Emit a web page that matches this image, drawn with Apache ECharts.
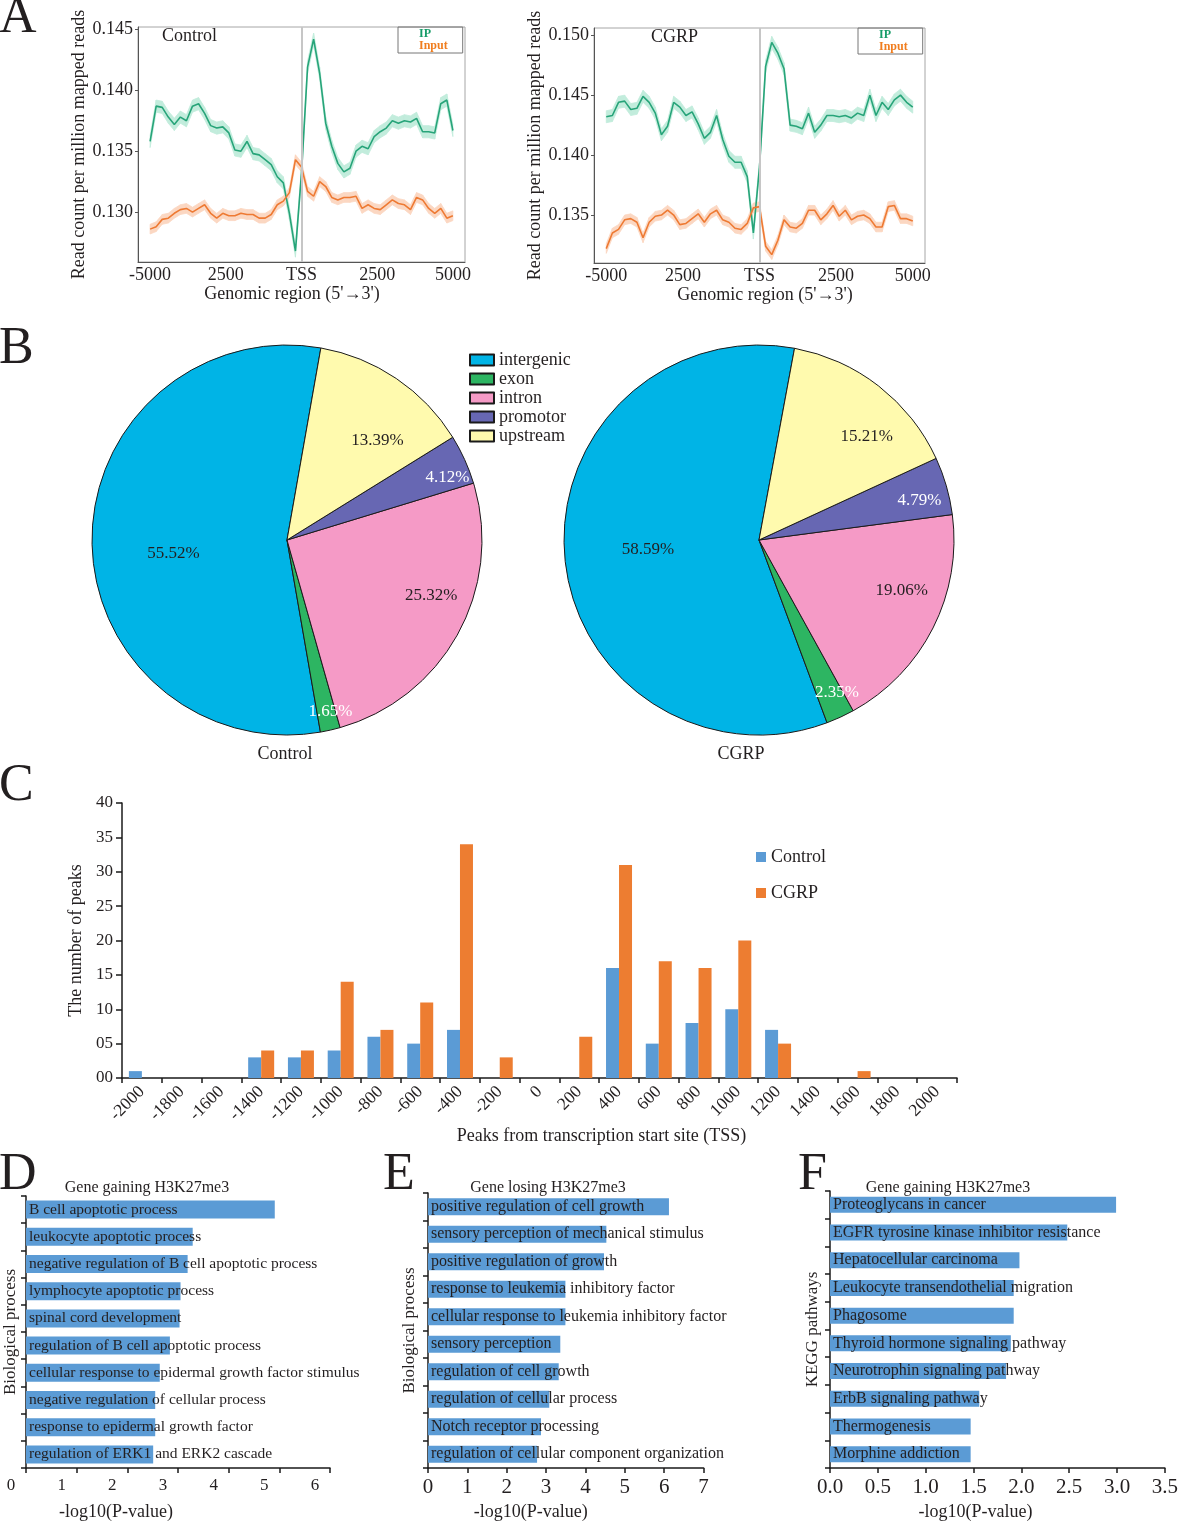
<!DOCTYPE html>
<html>
<head>
<meta charset="utf-8">
<title>H3K27me3 profiles and peaks</title>
<script src="https://cdn.jsdelivr.net/npm/echarts@6/dist/echarts.min.js"></script>
<style>
  html, body { margin: 0; padding: 0; background: #fff; }
  #main { width: 1181px; height: 1522px; }
</style>
</head>
<body>
<div id="main"></div>
<script>
// ---- A: read count profiles around the TSS ----
var positions = [-5000,-4800,-4600,-4400,-4200,-4000,-3800,-3600,-3400,-3200,-3000,-2800,-2600,-2400,-2200,-2000,-1800,-1600,-1400,-1200,-1000,-800,-600,-400,-200,0,200,400,600,800,1000,1200,1400,1600,1800,2000,2200,2400,2600,2800,3000,3200,3400,3600,3800,4000,4200,4400,4600,4800,5000];
var ctrlIP = [0.1358,0.1387,0.1386,0.1378,0.1372,0.1378,0.1375,0.1387,0.1389,0.1381,0.1371,0.1369,0.1370,0.1365,0.1351,0.1350,0.1358,0.1348,0.1347,0.1343,0.1339,0.1329,0.1324,0.1299,0.1268,0.1332,0.1419,0.1442,0.1414,0.1373,0.1354,0.1340,0.1333,0.1336,0.1350,0.1354,0.1352,0.1362,0.1366,0.1369,0.1375,0.1373,0.1375,0.1374,0.1377,0.1366,0.1366,0.1365,0.1389,0.1392,0.1367];
var ctrlInput = [0.1286,0.1288,0.1294,0.1295,0.1299,0.1302,0.1303,0.1300,0.1303,0.1306,0.1299,0.1295,0.1299,0.1297,0.1297,0.1299,0.1298,0.1298,0.1295,0.1295,0.1298,0.1306,0.1309,0.1316,0.1343,0.1337,0.1317,0.1313,0.1325,0.1321,0.1312,0.1310,0.1312,0.1312,0.1313,0.1303,0.1306,0.1303,0.1302,0.1306,0.1310,0.1307,0.1306,0.1302,0.1312,0.1310,0.1303,0.1299,0.1303,0.1295,0.1297];
var cgrpIP = [0.1432,0.1433,0.1444,0.1445,0.1438,0.1439,0.1449,0.1444,0.1435,0.1417,0.1424,0.1444,0.1440,0.1433,0.1436,0.1426,0.1414,0.1419,0.1433,0.1413,0.1399,0.1394,0.1394,0.1382,0.1335,0.1390,0.1474,0.1494,0.1485,0.1472,0.1425,0.1424,0.1422,0.1435,0.1419,0.1425,0.1433,0.1433,0.1432,0.1433,0.1431,0.1435,0.1433,0.1450,0.1433,0.1444,0.1438,0.1446,0.1450,0.1444,0.1440];
var cgrpInput = [0.1322,0.1335,0.1338,0.1346,0.1347,0.1344,0.1331,0.1344,0.1349,0.1350,0.1354,0.1350,0.1342,0.1343,0.1347,0.1351,0.1344,0.1351,0.1354,0.1346,0.1344,0.1339,0.1338,0.1343,0.1356,0.1357,0.1324,0.1317,0.1329,0.1346,0.1340,0.1339,0.1343,0.1354,0.1354,0.1346,0.1351,0.1358,0.1349,0.1354,0.1346,0.1349,0.1350,0.1347,0.1340,0.1340,0.1357,0.1358,0.1347,0.1347,0.1345];
var ipSpread = 0.0005;     // half width of the shaded band
var inputSpread = 0.0004;
var profileTicks = [-5000, -2500, 0, 2500, 5000];
var profileTickLabels = ['-5000', '2500', 'TSS', '2500', '5000'];
var ctrlYTicks = [0.130, 0.135, 0.140, 0.145];
var cgrpYTicks = [0.135, 0.140, 0.145, 0.150];

// ---- B: genomic distribution of peaks ----
var regionNames = ['intergenic', 'exon', 'intron', 'promotor', 'upstream'];
var ctrlShare = [55.52, 1.65, 25.32, 4.12, 13.39];
var cgrpShare = [58.59, 2.35, 19.06, 4.79, 15.21];

// ---- C: peaks vs distance from TSS ----
var tssBins = ['-2000','-1800','-1600','-1400','-1200','-1000','-800','-600','-400','-200','0','200','400','600','800','1000','1200','1400','1600','1800','2000'];
var peaksControl = [1,0,0,3,3,4,6,5,7,0,0,0,16,5,8,10,7,0,0,0,0];
var peaksCGRP = [0,0,0,4,4,14,7,11,34,3,0,6,31,17,16,20,5,0,1,0,0];

// ---- D/E/F: enrichment ----
var gainTerms = ['B cell apoptotic process','leukocyte apoptotic process','negative regulation of B cell apoptotic process','lymphocyte apoptotic process','spinal cord development','regulation of B cell apoptotic process','cellular response to epidermal growth factor stimulus','negative regulation of cellular process','response to epidermal growth factor','regulation of ERK1 and ERK2 cascade'];
var gainScores = [4.91, 3.29, 3.19, 3.05, 3.03, 2.84, 2.64, 2.55, 2.55, 2.51];
var lossTerms = ['positive regulation of cell growth','sensory perception of mechanical stimulus','positive regulation of growth','response to leukemia inhibitory factor','cellular response to leukemia inhibitory factor','sensory perception','regulation of cell growth','regulation of cellular process','Notch receptor processing','regulation of cellular component organization'];
var lossScores = [6.12, 4.53, 4.47, 3.49, 3.49, 3.36, 3.32, 3.08, 2.87, 2.77];
var keggTerms = ['Proteoglycans in cancer','EGFR tyrosine kinase inhibitor resistance','Hepatocellular carcinoma','Leukocyte transendothelial migration','Phagosome','Thyroid hormone signaling pathway','Neurotrophin signaling pathway','ErbB signaling pathway','Thermogenesis','Morphine addiction'];
var keggScores = [2.99, 2.48, 1.98, 1.92, 1.92, 1.89, 1.84, 1.56, 1.47, 1.47];

var FONT = '"Liberation Serif", "DejaVu Serif", serif';
var INK = '#231f20';
var AXIS = '#1a1a1a';
var GREEN = '#27a479', GREEN_BAND = '#c2ecdc';
var ORANGE = '#ee7a33', ORANGE_BAND = '#fbd7c2';
var BLUE = '#5b9bd5', BAR_ORANGE = '#ed7d31';
var pieColors = ['#00b4e6', '#2db562', '#f59ac6', '#6767b3', '#fffaae'];
var pieInk = [INK, '#fff', INK, '#fff', INK];
var ctrlLabelShift = [[-13, 14], [21, 74], [56, 7], [69, -21], [34, -16]];
var cgrpLabelShift = [[-11, 1], [36, 61], [53, 5], [64, -12], [46, -24]];

var chart = echarts.init(document.getElementById('main'));

function pairs(xs, ys) {
  return xs.map(function (x, i) { return [x, ys[i]]; });
}

// shaded band drawn as quads between consecutive positions
function bandSeries(idx, vals, half, color) {
  var lo = vals.map(function (v) { return v - half; });
  var hi = vals.map(function (v) { return v + half; });
  return {
    type: 'custom', xAxisIndex: idx, yAxisIndex: idx, silent: true, z: 1,
    data: positions.map(function (x, i) { return [x, lo[i], hi[i]]; }),
    encode: { x: 0, y: [1, 2] },
    renderItem: function (params, api) {
      var i = params.dataIndex;
      if (i >= positions.length - 1) { return null; }
      var pts = [
        api.coord([positions[i], lo[i]]),
        api.coord([positions[i + 1], lo[i + 1]]),
        api.coord([positions[i + 1], hi[i + 1]]),
        api.coord([positions[i], hi[i]])
      ];
      return { type: 'polygon', shape: { points: pts },
        style: { fill: color, stroke: color, lineWidth: 0.8 } };
    }
  };
}

function profileSeries(idx, ip, input) {
  return [
    bandSeries(idx, ip, ipSpread, GREEN_BAND),
    bandSeries(idx, input, inputSpread, ORANGE_BAND),
    {
      name: 'IP', type: 'line', xAxisIndex: idx, yAxisIndex: idx, symbol: 'none', z: 3,
      data: pairs(positions, ip), lineStyle: { color: GREEN, width: 1.6 }, itemStyle: { color: GREEN },
      markLine: {
        silent: true, symbol: ['none', 'none'], label: { show: false },
        lineStyle: { color: '#c6c6c6', width: 2, type: 'solid' },
        data: [{ xAxis: 0 }]
      }
    },
    {
      name: 'Input', type: 'line', xAxisIndex: idx, yAxisIndex: idx, symbol: 'none', z: 3,
      data: pairs(positions, input), lineStyle: { color: ORANGE, width: 1.6 }, itemStyle: { color: ORANGE }
    }
  ];
}

function profileX(idx, namePad) {
  return {
    gridIndex: idx, type: 'value', min: -5400, max: 5400,
    axisLine: { show: true, onZero: false, lineStyle: { color: '#555', width: 1 } },
    axisTick: { show: false }, splitLine: { show: false },
    axisLabel: {
      customValues: profileTicks, fontSize: 18, margin: 4, color: INK,
      formatter: function (v) { return profileTickLabels[profileTicks.indexOf(v)]; }
    },
    name: "Genomic region (5'\u21923')", nameLocation: 'middle', nameGap: 20,
    nameTextStyle: { fontSize: 18, color: INK, padding: namePad }
  };
}

function profileY(idx, min, max, ticks) {
  return {
    gridIndex: idx, type: 'value', min: min, max: max,
    axisLine: { show: true, onZero: false, lineStyle: { color: '#555', width: 1 } },
    axisTick: { show: true, length: 3, customValues: ticks, lineStyle: { color: '#555' } },
    splitLine: { show: false },
    axisLabel: { customValues: ticks, fontSize: 18, margin: 5, color: INK,
      formatter: function (v) { return v.toFixed(3); } },
    name: 'Read count per million mapped reads', nameLocation: 'middle', nameGap: 47,
    nameTextStyle: { fontSize: 18, color: INK }
  };
}

function pieSeries(name, center, startAngle, shares, shift) {
  return {
    name: name, type: 'pie', center: center, radius: 195,
    startAngle: startAngle, clockwise: false, silent: true,
    itemStyle: { borderColor: '#1a1a1a', borderWidth: 1 },
    label: {
      show: true, position: 'inside', fontSize: 17, fontFamily: FONT,
      formatter: function (p) { return p.value.toFixed(2) + '%'; }
    },
    labelLine: { show: false },
    labelLayout: function (p) { var s = shift[p.dataIndex]; return { dx: s[0], dy: s[1] }; },
    data: regionNames.map(function (n, i) {
      return { name: n, value: shares[i], itemStyle: { color: pieColors[i] },
        label: { color: pieInk[i], textBorderWidth: 0 } };
    })
  };
}

function enrichX(idx, max, step, fontSize, labelPad, namePad, fmt) {
  return {
    gridIndex: idx, type: 'value', min: 0, max: max, interval: step,
    axisLine: { show: true, lineStyle: { color: AXIS, width: 1.5 } },
    axisTick: { show: true, length: 5, lineStyle: { color: AXIS, width: 1.5 } },
    splitLine: { show: false },
    axisLabel: { fontSize: fontSize, margin: 9, color: INK, padding: labelPad, formatter: fmt },
    name: '-log10(P-value)', nameLocation: 'middle', nameGap: 35,
    nameTextStyle: { fontSize: 18, color: INK, padding: namePad }
  };
}

function enrichY(idx, terms, name, gap) {
  return {
    gridIndex: idx, type: 'category', data: terms, inverse: true,
    axisLine: { show: true, lineStyle: { color: AXIS, width: 1.5 } },
    axisTick: { show: true, length: 5, lineStyle: { color: AXIS, width: 1.5 } },
    axisLabel: { show: false },
    name: name, nameLocation: 'middle', nameGap: gap,
    nameTextStyle: { fontSize: 17, color: INK }
  };
}

function enrichBars(name, idx, scores, width, fontSize) {
  return {
    name: name, type: 'bar', xAxisIndex: idx, yAxisIndex: idx, data: scores,
    barWidth: width, silent: true, itemStyle: { color: BLUE },
    label: { show: true, position: 'insideLeft', distance: 3, formatter: '{b}',
      fontSize: fontSize, color: INK, textBorderWidth: 0, fontFamily: FONT }
  };
}

function txt(text, x, y, size, align) {
  return { type: 'text', x: x, y: y, silent: true, style: {
    text: text, fontSize: size, fontFamily: FONT, fill: INK,
    textAlign: align, align: align, textVerticalAlign: 'middle', verticalAlign: 'middle' } };
}

function profileLegend(left, top) {
  return {
    left: left, top: top, orient: 'vertical', icon: 'none', itemWidth: 0, itemHeight: 11, itemGap: 0,
    padding: [1, 15, 1, 16], borderColor: '#777', borderWidth: 1, selectedMode: false,
    data: [
      { name: 'IP', textStyle: { color: '#169c68', fontWeight: 'bold', fontSize: 12 } },
      { name: 'Input', textStyle: { color: '#f07d1e', fontWeight: 'bold', fontSize: 12 } }
    ]
  };
}

var series = []
  .concat(profileSeries(0, ctrlIP, ctrlInput))
  .concat(profileSeries(1, cgrpIP, cgrpInput))
  .concat([
    pieSeries('ctrlPie', [287, 540], 80, ctrlShare, ctrlLabelShift),
    pieSeries('cgrpPie', [759, 540], 79.5, cgrpShare, cgrpLabelShift),
    { name: 'Control', type: 'bar', xAxisIndex: 2, yAxisIndex: 2, data: peaksControl,
      barWidth: 13, barGap: '0%', itemStyle: { color: BLUE }, silent: true },
    { name: 'CGRP', type: 'bar', xAxisIndex: 2, yAxisIndex: 2, data: peaksCGRP,
      barWidth: 13, barGap: '0%', itemStyle: { color: BAR_ORANGE }, silent: true },
    enrichBars('gain', 3, gainScores, 18, 15.5),
    enrichBars('loss', 4, lossScores, 17, 16),
    enrichBars('kegg', 5, keggScores, 16, 16)
  ]);

chart.setOption({
  animation: false,
  textStyle: { fontFamily: FONT, color: INK },
  grid: [
    { left: 138, top: 27, width: 327, height: 235, show: true, borderColor: '#a6a6a6', borderWidth: 1 },
    { left: 594, top: 28, width: 331, height: 235, show: true, borderColor: '#a6a6a6', borderWidth: 1 },
    { left: 122, top: 803, width: 835, height: 275 },
    { left: 26, top: 1196, width: 304, height: 273 },
    { left: 428, top: 1193, width: 275.6, height: 275 },
    { left: 830, top: 1191, width: 338.3, height: 277 }
  ],
  xAxis: [
    profileX(0, [0, 19, 0, 0]),
    profileX(1, [0, 0, 0, 11]),
    {
      gridIndex: 2, type: 'category', data: tssBins, boundaryGap: true,
      axisLine: { show: true, lineStyle: { color: AXIS, width: 1.5 } },
      axisTick: { show: true, length: 5, interval: 0, lineStyle: { color: AXIS, width: 1.5 } },
      axisLabel: { interval: 0, rotate: 45, fontSize: 17.5, margin: 11, color: INK },
      name: 'Peaks from transcription start site (TSS)', nameLocation: 'middle', nameGap: 45,
      nameTextStyle: { fontSize: 18, color: INK, padding: [0, 0, 0, 124] }
    },
    enrichX(3, 6, 1, 17, [0, 30, 0, 0], [0, 124, 0, 0]),
    enrichX(4, 7, 1, 21, 0, [0, 70, 0, 0]),
    enrichX(5, 3.5, 0.5, 21, 0, [0, 44, 0, 0], function (v) { return v.toFixed(1); })
  ],
  yAxis: [
    profileY(0, 0.1259, 0.1452, ctrlYTicks),
    profileY(1, 0.1310, 0.1506, cgrpYTicks),
    {
      gridIndex: 2, type: 'value', min: 0, max: 40, interval: 5,
      axisLine: { show: true, lineStyle: { color: AXIS, width: 1.5 } },
      axisTick: { show: true, length: 6, lineStyle: { color: AXIS, width: 1.5 } },
      splitLine: { show: false },
      axisLabel: { fontSize: 17, margin: 9, color: INK,
        formatter: function (v) { return (v < 10 ? '0' : '') + v; } },
      name: 'The number of peaks', nameLocation: 'middle', nameGap: 30,
      nameTextStyle: { fontSize: 18, color: INK }
    },
    enrichY(3, gainTerms, 'Biological process', 7),
    enrichY(4, lossTerms, 'Biological process', 10),
    enrichY(5, keggTerms, 'KEGG pathways', 9)
  ],
  legend: [
    {
      data: regionNames, left: 464, top: 346, orient: 'vertical', icon: 'rect',
      itemWidth: 24, itemHeight: 11, itemGap: 1, selectedMode: false,
      textStyle: { fontSize: 18, color: INK, fontFamily: FONT }
    },
    {
      data: ['Control', 'CGRP'], left: 751, top: 843, orient: 'vertical', icon: 'rect',
      itemWidth: 10, itemHeight: 10, itemGap: 18, selectedMode: false,
      textStyle: { fontSize: 18, color: INK, fontFamily: FONT }
    },
    profileLegend(398, 27),
    profileLegend(858, 28)
  ],
  graphic: { elements: [
    txt('A', -1, 18, 52, 'left'),
    txt('B', -1, 349, 52, 'left'),
    txt('C', -1, 786, 52, 'left'),
    txt('D', -1, 1175, 52, 'left'),
    txt('E', 383, 1175, 52, 'left'),
    txt('F', 798, 1175, 52, 'left'),
    txt('Control', 162, 36, 18, 'left'),
    txt('CGRP', 651, 37, 18, 'left'),
    txt('Control', 285, 754, 18, 'center'),
    txt('CGRP', 741, 754, 18, 'center'),
    txt('9.07%', 826, 406, 17, 'center'),
    txt('Gene gaining H3K27me3', 147, 1188, 16, 'center'),
    txt('Gene losing H3K27me3', 548, 1188, 16, 'center'),
    txt('Gene gaining H3K27me3', 948, 1188, 16, 'center')
  ] },
  series: series
});
</script>
</body>
</html>
